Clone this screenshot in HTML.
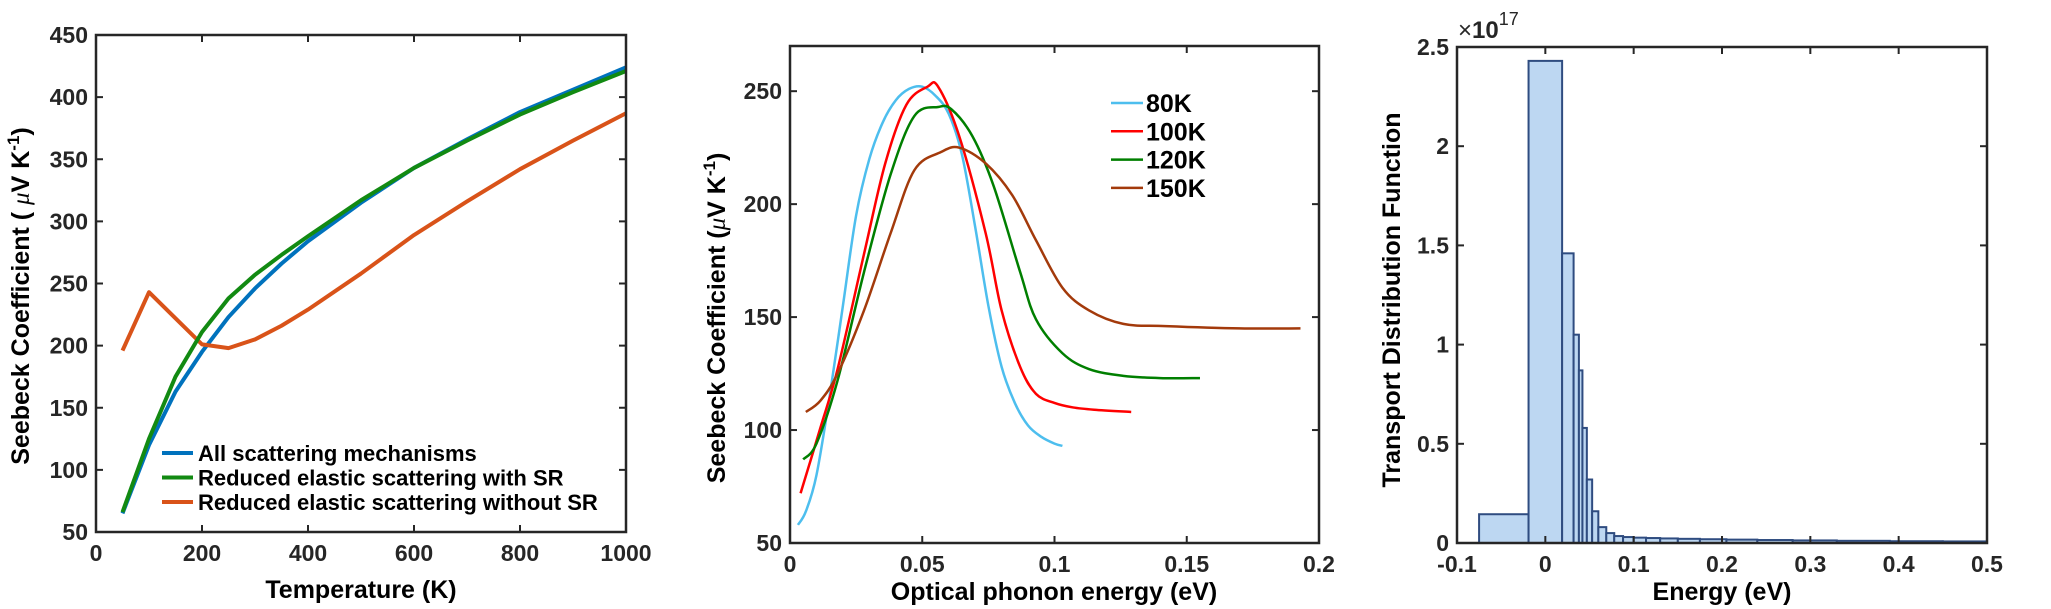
<!DOCTYPE html>
<html><head><meta charset="utf-8"><style>
body{margin:0;background:#fff;}
svg{display:block;font-family:"Liberation Sans",Arial,sans-serif;}
.tk{font-size:23px;font-weight:bold;fill:#262626;}
.ti{font-size:25px;font-weight:bold;fill:#000;}
.lg{font-size:22px;font-weight:bold;fill:#000;}
</style></head><body>
<svg id="fig" width="2051" height="609" viewBox="0 0 2051 609" xmlns="http://www.w3.org/2000/svg"></svg>
<script>
// Panel 1 data
const p1Temps=[50,100,150,200,250,300,350,400,500,600,700,800,900,1000];
const p1All=[65,120,163,195,223,246,266,284,315,343,366,388,406,424];
const p1WithSR=[66,125,175,211,238,257,273,288,317,343,365,386,404,421];
const p1WithoutSR=[196,243,222,201,198,205,216,229,258,289,316,342,365,387];
const p1XTicks=[0,200,400,600,800,1000];
const p1YTicks=[50,100,150,200,250,300,350,400,450];
const p1Names=["All scattering mechanisms","Reduced elastic scattering with SR","Reduced elastic scattering without SR"];
// Panel 2 data
const p2x80=[0.003,0.006,0.010,0.015,0.020,0.025,0.030,0.035,0.040,0.045,0.050,0.055,0.060,0.065,0.070,0.075,0.080,0.085,0.090,0.095,0.100,0.103];
const p2y80=[58,64,80,115,155,195,220,236,246,251,252,248,240,222,190,155,128,112,102,97,94,93];
const p2x100=[0.004,0.0115,0.018,0.028,0.036,0.044,0.052,0.056,0.064,0.074,0.080,0.087,0.093,0.100,0.107,0.115,0.129];
const p2y100=[72,101,127,178,218,244,252,252,230,187,153,128,116,112,110,109,108];
const p2x120=[0.005,0.010,0.018,0.028,0.038,0.047,0.056,0.061,0.069,0.077,0.087,0.093,0.103,0.113,0.126,0.140,0.155];
const p2y120=[87,94,122,170,213,239,243,242,230,208,170,149,134,127,124,123,123];
const p2x150=[0.006,0.0115,0.018,0.028,0.038,0.047,0.057,0.064,0.074,0.084,0.093,0.103,0.113,0.126,0.142,0.170,0.193];
const p2y150=[108,113,125,153,187,215,223,225,218,204,184,163,153,147,146,145,145];
const p2XTicks=[0,0.05,0.1,0.15,0.2];
const p2XLabels=["0","0.05","0.1","0.15","0.2"];
const p2YTicks=[50,100,150,200,250];
const p2Names=["80K","100K","120K","150K"];
// Panel 3 data
const p3Edges=[-0.075,-0.019,0.019,0.032,0.038,0.042,0.047,0.053,0.060,0.069,0.078,0.088,0.100,0.114,0.130,0.150,0.175,0.205,0.240,0.280,0.330,0.390,0.450,0.500];
const p3Heights=[0.145,2.43,1.46,1.05,0.87,0.58,0.32,0.16,0.08,0.05,0.035,0.03,0.027,0.025,0.023,0.021,0.019,0.017,0.015,0.013,0.011,0.009,0.008];
const p3XTicks=[-0.1,0,0.1,0.2,0.3,0.4,0.5];
const p3XLabels=["-0.1","0","0.1","0.2","0.3","0.4","0.5"];
const p3YTicks=[0,0.5,1,1.5,2,2.5];
const p3YLabels=["0","0.5","1","1.5","2","2.5"];

const NS="http://www.w3.org/2000/svg";
const fig=document.getElementById('fig');
function mk(tag,attrs,parent){const e=document.createElementNS(NS,tag);for(const k in attrs)e.setAttribute(k,attrs[k]);(parent||fig).appendChild(e);return e;}
function lin(d0,d1,r0,r1){return v=>r0+(v-d0)/(d1-d0)*(r1-r0);}

function axes(g,L,R,T,B,sx,sy,xt,xl,yt,yl){
  xt.forEach((v,i)=>{const x=sx(v);
    const t=mk('line',{x1:x,x2:x,y1:B,y2:B-7,stroke:'#262626','stroke-width':2},g);
    
    mk('line',{x1:x,x2:x,y1:T,y2:T+7,stroke:'#262626','stroke-width':2},g);
    const tx=mk('text',{x:x,y:B+29,'text-anchor':'middle',class:'tk'},g);tx.textContent=xl[i];
    });
  yt.forEach((v,i)=>{const y=sy(v);
    const t=mk('line',{x1:L,x2:L+7,y1:y,y2:y,stroke:'#262626','stroke-width':2},g);
    
    mk('line',{x1:R,x2:R-7,y1:y,y2:y,stroke:'#262626','stroke-width':2},g);
    const tx=mk('text',{x:L-8,y:y+8,'text-anchor':'end',class:'tk'},g);tx.textContent=yl[i];
    });
}
function box(g,L,R,T,B){const r=mk('rect',{x:L,y:T,width:R-L,height:B-T,fill:'none',stroke:'#262626','stroke-width':2.5},g);
  }
function line(g,xs,ys,sx,sy,col,w,name){const p=mk('polyline',{points:xs.map((x,i)=>sx(x)+','+sy(ys[i])).join(' '),fill:'none',stroke:col,'stroke-width':w,'stroke-linejoin':'round'},g);
  }
function smooth(g,xs,ys,sx,sy,col,w,name){
  const P=xs.map((x,i)=>[sx(x),sy(ys[i])]);
  let d='M'+P[0][0]+','+P[0][1];
  for(let i=0;i<P.length-1;i++){
    const p0=P[Math.max(0,i-1)],p1=P[i],p2=P[i+1],p3=P[Math.min(P.length-1,i+2)];
    const c1=[p1[0]+(p2[0]-p0[0])/6,p1[1]+(p2[1]-p0[1])/6];
    const c2=[p2[0]-(p3[0]-p1[0])/6,p2[1]-(p3[1]-p1[1])/6];
    d+=' C'+c1[0]+','+c1[1]+' '+c2[0]+','+c2[1]+' '+p2[0]+','+p2[1];
  }
  const p=mk('path',{d:d,fill:'none',stroke:col,'stroke-width':w,'stroke-linejoin':'round'},g);
  }

// ---- Panel 1
(function(){
  const g=mk('g',{});
  const L=96,R=626,T=35,B=532;const sx=lin(0,1000,L,R),sy=lin(50,450,B,T);
  const cols=['#0072BD','#128A12','#D95319'];
  line(g,p1Temps,p1All,sx,sy,cols[0],4,'series-all-scattering');
  line(g,p1Temps,p1WithoutSR,sx,sy,cols[2],4,'series-without-sr');
  line(g,p1Temps,p1WithSR,sx,sy,cols[1],4,'series-with-sr');
  box(g,L,R,T,B);
  axes(g,L,R,T,B,sx,sy,p1XTicks,p1XTicks.map(String),p1YTicks,p1YTicks.map(String));
  p1Names.forEach((n,i)=>{const y=453+i*24.5;
    const e=mk('g',{},g);
    mk('line',{x1:162,x2:193,y1:y,y2:y,stroke:cols[i],'stroke-width':4},e);
    const t=mk('text',{x:198,y:y+8,class:'lg'},e);t.textContent=n;});
  const xt=mk('text',{x:361,y:598,'text-anchor':'middle',class:'ti'},g);xt.textContent='Temperature (K)';
  
  const yt=mk('text',{x:0,y:0,'text-anchor':'middle',class:'ti',transform:'translate(29,296) rotate(-90)'},g);
  yt.innerHTML='Seebeck Coefficient ( <tspan font-family="Liberation Serif" font-style="italic" font-weight="normal">μ</tspan>V K<tspan dy="-10" font-size="17">-1</tspan><tspan dy="10">)</tspan>';
  
})();

// ---- Panel 2
(function(){
  const g=mk('g',{});
  const L=790,R=1319,T=46,B=543;const sx=lin(0,0.2,L,R),sy=lin(50,270,B,T);
  const cols=['#4DBEEE','#FF0000','#007F00','#A33A0B'];
  const xs=[p2x80,p2x100,p2x120,p2x150],ys=[p2y80,p2y100,p2y120,p2y150];
  xs.forEach((x,i)=>smooth(g,x,ys[i],sx,sy,cols[i],2.5,'series-'+p2Names[i]));
  box(g,L,R,T,B);
  axes(g,L,R,T,B,sx,sy,p2XTicks,p2XLabels,p2YTicks,p2YTicks.map(String));
  p2Names.forEach((n,i)=>{const y=103+i*28.3;
    const e=mk('g',{},g);
    mk('line',{x1:1111,x2:1143,y1:y,y2:y,stroke:cols[i],'stroke-width':2.5},e);
    const t=mk('text',{x:1146,y:y+9,class:'ti'},e);t.textContent=n;});
  const xt=mk('text',{x:1054,y:600,'text-anchor':'middle',class:'ti'},g);xt.textContent='Optical phonon energy (eV)';
  
  const yt=mk('text',{x:0,y:0,'text-anchor':'middle',class:'ti',transform:'translate(725,318) rotate(-90)'},g);
  yt.innerHTML='Seebeck Coefficient (<tspan font-family="Liberation Serif" font-style="italic" font-weight="normal">μ</tspan>V K<tspan dy="-10" font-size="17">-1</tspan><tspan dy="10">)</tspan>';
  
})();

// ---- Panel 3
(function(){
  const g=mk('g',{});
  const L=1457,R=1987,T=47,B=543;const sx=lin(-0.1,0.5,L,R),sy=lin(0,2.5,B,T);
  p3Heights.forEach((h,i)=>{const x0=sx(p3Edges[i]),x1=sx(p3Edges[i+1]);
    const r=mk('rect',{x:x0,y:sy(h),width:x1-x0,height:B-sy(h),fill:'#BDD7F2',stroke:'#2F4C80','stroke-width':2},g);
    });
  box(g,L,R,T,B);
  axes(g,L,R,T,B,sx,sy,p3XTicks,p3XLabels,p3YTicks,p3YLabels);
  const ex=mk('text',{x:1458,y:38,'font-size':24,fill:'#262626'},g);
  ex.innerHTML='×<tspan font-weight="bold">10</tspan><tspan dy="-13" font-size="18">17</tspan>';
  
  const xt=mk('text',{x:1722,y:600,'text-anchor':'middle',class:'ti'},g);xt.textContent='Energy (eV)';
  
  const yt=mk('text',{x:0,y:0,'text-anchor':'middle',class:'ti',transform:'translate(1400,300) rotate(-90)'},g);
  yt.textContent='Transport Distribution Function';
  
})();
</script>
</body></html>
